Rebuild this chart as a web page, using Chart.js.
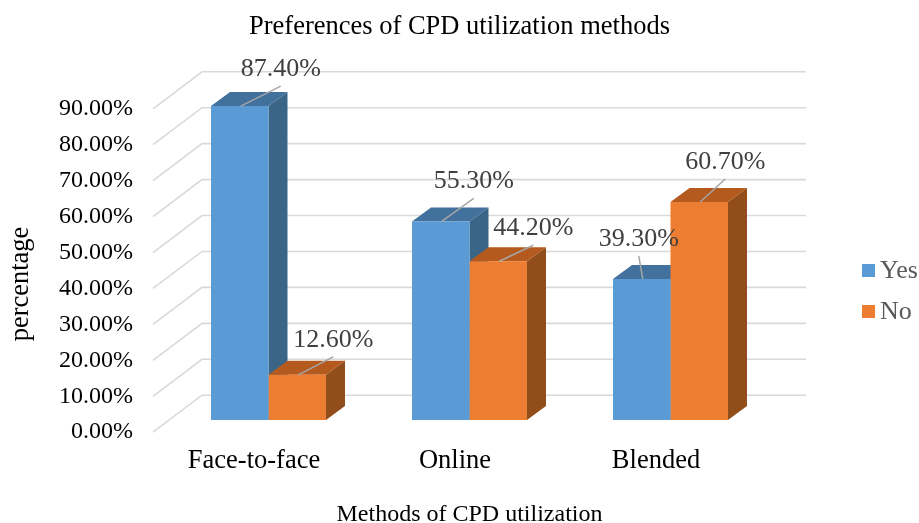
<!DOCTYPE html>
<html>
<head>
<meta charset="utf-8">
<title>Preferences of CPD utilization methods</title>
<script src="https://cdn.jsdelivr.net/npm/chart.js@4"></script>
<style>
  html, body { margin: 0; padding: 0; background: #fff; }
  canvas { display: block; }
</style>
</head>
<body>
<canvas id="chart" width="919" height="523"></canvas>
<script>
const categories = ['Face-to-face', 'Online', 'Blended'];
const yesValues = [87.4, 55.3, 39.3];
const noValues = [12.6, 44.2, 60.7];
const tickValues = [0, 10, 20, 30, 40, 50, 60, 70, 80, 90];

// leader line ends, relative to the centre of each bar's top edge
const yesLeaders = [[41, -20], [33, -23], [-3, -23]];
const noLeaders = [[36, -18], [35, -16], [26, -23]];

const SERIF = '"Liberation Serif", serif';
const WALL_DX = 49, WALL_DY = 37;   // floor depth
const BAR_DX = 19, BAR_DY = 14;     // bar depth
const FLOOR_GAP = 12;               // bars stand this far back from the axis front

const yesColors = { front: '#5B9BD5', top: '#41719C', side: '#3A6587' };
const noColors = { front: '#ED7D31', top: '#B55A1E', side: '#914D1A' };

const pct = v => v.toFixed(2) + '%';

const scene3d = {
  id: 'scene3d',
  beforeDatasetsDraw(chart) {
    const { ctx, chartArea, scales } = chart;
    const frontX = chartArea.left - 15;
    const backX = frontX + WALL_DX;
    const backRight = chartArea.right + 35;

    // side wall and back wall grid lines
    ctx.save();
    ctx.strokeStyle = '#D9D9D9';
    ctx.lineWidth = 1.6;
    tickValues.forEach(v => {
      const y = scales.y.getPixelForValue(v);
      ctx.beginPath();
      ctx.moveTo(frontX, y);
      ctx.lineTo(backX, y - WALL_DY);
      ctx.lineTo(backRight, y - WALL_DY);
      ctx.stroke();
    });

    // top and side faces, front faces are the real bars
    [yesColors, noColors].forEach((colors, d) => {
      chart.getDatasetMeta(d).data.forEach(bar => {
        const left = bar.x - bar.width / 2;
        const right = bar.x + bar.width / 2;
        ctx.fillStyle = colors.side;
        ctx.beginPath();
        ctx.moveTo(right, bar.y);
        ctx.lineTo(right + BAR_DX, bar.y - BAR_DY);
        ctx.lineTo(right + BAR_DX, bar.base - BAR_DY);
        ctx.lineTo(right, bar.base);
        ctx.closePath();
        ctx.fill();
        ctx.fillStyle = colors.top;
        ctx.beginPath();
        ctx.moveTo(left, bar.y);
        ctx.lineTo(left + BAR_DX, bar.y - BAR_DY);
        ctx.lineTo(right + BAR_DX, bar.y - BAR_DY);
        ctx.lineTo(right, bar.y);
        ctx.closePath();
        ctx.fill();
      });
    });
    ctx.restore();
  },
  afterDatasetsDraw(chart) {
    const { ctx } = chart;
    ctx.save();
    ctx.textAlign = 'center';
    ctx.textBaseline = 'middle';
    [[yesValues, yesLeaders], [noValues, noLeaders]].forEach(([values, leaders], d) => {
      chart.getDatasetMeta(d).data.forEach((bar, i) => {
        const endX = bar.x + leaders[i][0];
        const endY = bar.y + leaders[i][1];
        ctx.strokeStyle = '#A6A6A6';
        ctx.lineWidth = 1.5;
        ctx.beginPath();
        ctx.moveTo(bar.x + 1, bar.y);
        ctx.lineTo(endX, endY);
        ctx.stroke();
        ctx.fillStyle = '#404040';
        ctx.font = '26px ' + SERIF;
        ctx.fillText(pct(values[i]), endX, endY - 17);
      });
    });

    // legend, tighter between swatch and text than the built-in one allows
    ctx.textAlign = 'left';
    ctx.font = '26px ' + SERIF;
    chart.data.datasets.forEach((ds, d) => {
      const y = 271 + d * 41;
      ctx.fillStyle = ds.backgroundColor;
      ctx.fillRect(862, y - 7, 13, 13);
      ctx.fillStyle = '#595959';
      ctx.fillText(ds.label, 880, y);
    });

    // y axis title sits lower than the middle of the axis
    ctx.textAlign = 'center';
    ctx.translate(21, 284);
    ctx.rotate(-Math.PI / 2);
    ctx.fillStyle = '#000';
    ctx.font = '26.5px ' + SERIF;
    ctx.fillText('percentage', 0, 0);
    ctx.restore();
  }
};

new Chart(document.getElementById('chart'), {
  type: 'bar',
  data: {
    labels: categories,
    datasets: [
      { label: 'Yes', data: yesValues, backgroundColor: yesColors.front, yAxisID: 'yBars', clip: false },
      { label: 'No', data: noValues, backgroundColor: noColors.front, yAxisID: 'yBars', clip: false }
    ]
  },
  options: {
    responsive: false,
    animation: false,
    barPercentage: 1,
    categoryPercentage: 0.572,
    layout: { padding: { bottom: 2 } },
    plugins: {
      title: {
        display: true,
        text: 'Preferences of CPD utilization methods',
        color: '#000',
        font: { family: SERIF, size: 26.5, weight: 'normal' },
        padding: { top: 11, bottom: 66 }
      },
      legend: { display: false },
      tooltip: { enabled: false }
    },
    scales: {
      x: {
        grid: { display: false, drawTicks: false },
        border: { display: false },
        ticks: { color: '#000', padding: 13, labelOffset: -14.5, maxRotation: 0, font: { family: SERIF, size: 26.5 } },
        title: {
          display: true,
          text: 'Methods of CPD utilization',
          color: '#000',
          font: { family: SERIF, size: 24, lineHeight: 0.5 },
          padding: { top: 19, bottom: 0 }
        }
      },
      // axis that is seen: its zero is the front edge of the floor
      y: {
        min: 0,
        max: 90,
        grid: { display: false, drawTicks: false },
        border: { display: false },
        afterBuildTicks(scale) { scale.ticks = tickValues.map(value => ({ value })); },
        afterFit(scale) { scale.width = 168; },
        ticks: {
          color: '#000',
          padding: 35,
          callback: v => pct(v),
          font: { family: SERIF, size: 24 }
        }
      },
      // axis the bars use: same units, shifted up by the gap to the floor edge
      yBars: {
        position: 'right',
        min: -FLOOR_GAP / 3.567,
        max: 90 - FLOOR_GAP / 3.567,
        grid: { display: false, drawTicks: false },
        border: { display: false },
        ticks: { display: false },
        afterFit(scale) { scale.width = 148; }
      }
    }
  },
  plugins: [scene3d]
});
</script>
</body>
</html>
